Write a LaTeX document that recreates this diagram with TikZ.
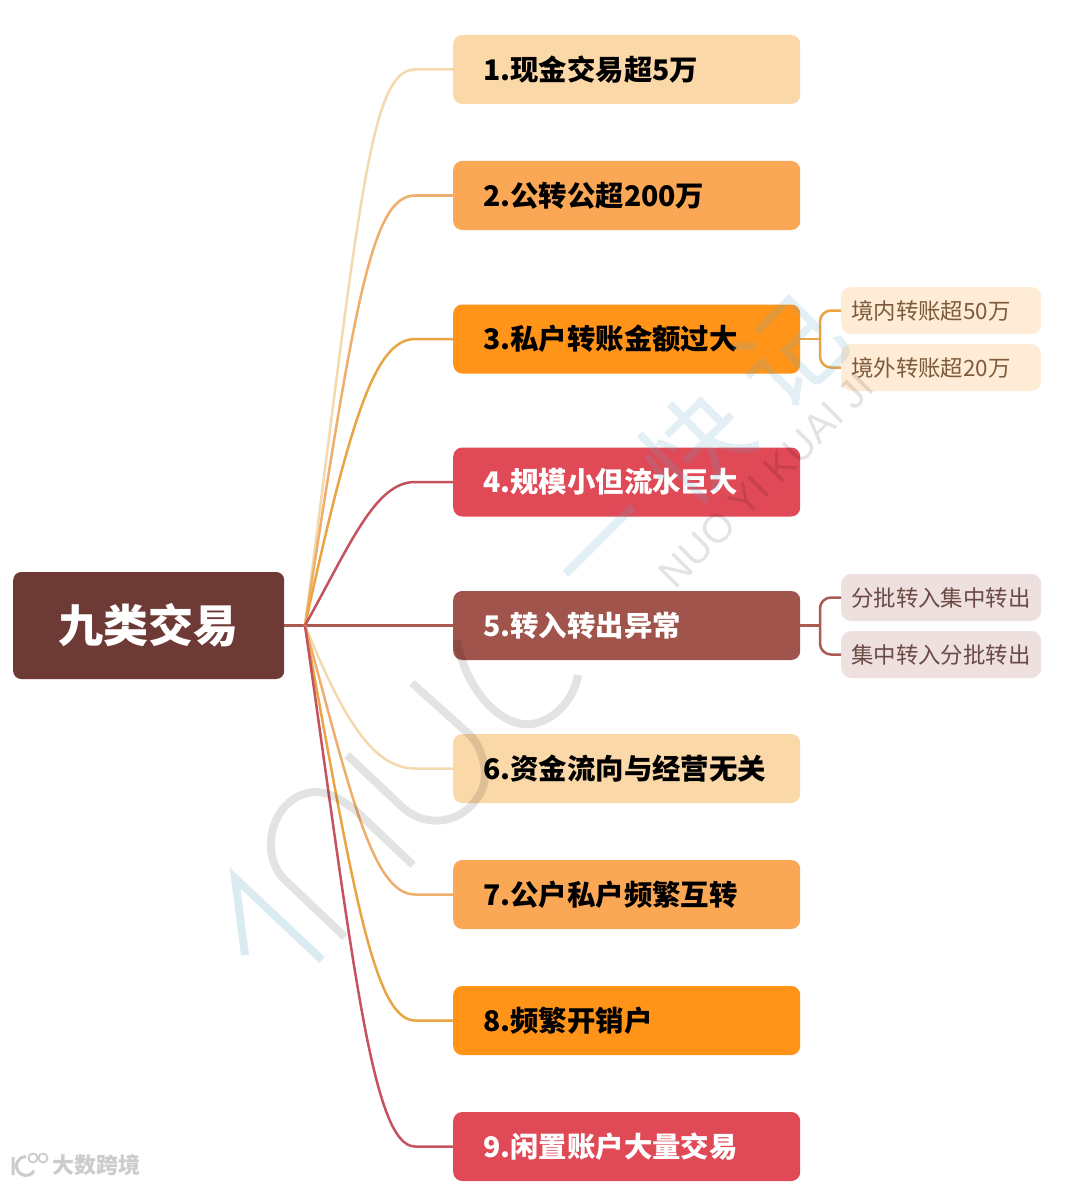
\documentclass[tikz,border=0pt]{standalone}
\usepackage{fontspec}
\setmainfont{Noto Sans CJK SC}
\newfontfamily\wmlatin{Liberation Sans}
\definecolor{rootc}{HTML}{6E3A35}
\definecolor{pale}{HTML}{FBD8A8}
\definecolor{peach}{HTML}{FBA856}
\definecolor{amber}{HTML}{FF9419}
\definecolor{rose}{HTML}{E04A57}
\definecolor{brick}{HTML}{A0544C}
\definecolor{linepale}{HTML}{F3D9AE}
\definecolor{linepeach}{HTML}{EFAE6C}
\definecolor{lineamber}{HTML}{E9A544}
\definecolor{linerose}{HTML}{C4535F}
\definecolor{linebrick}{HTML}{A95B52}
\definecolor{leaftexta}{HTML}{7D5A3A}
\definecolor{leaftextb}{HTML}{6B4A45}
\definecolor{wmblue}{HTML}{5FA8C8}
\tikzset{
  rootbox/.style={fill=rootc, text=white, rounded corners=8pt, minimum width=271pt, minimum height=107pt,
    font=\bfseries\fontsize{45}{47}\selectfont, anchor=west},
  branch/.style={rounded corners=9pt, minimum width=347pt, minimum height=69pt, inner xsep=30pt,
    text width=287pt, align=left, font=\bfseries\fontsize{28.4}{30}\selectfont, anchor=west},
  leaf/.style={rounded corners=10pt, minimum width=200pt, minimum height=47pt, inner xsep=10pt,
    text width=180pt, align=left, font=\fontsize{22.4}{24}\selectfont, anchor=west},
  link/.style={line width=2.5pt},
}
\begin{document}
\begin{tikzpicture}[x=1pt, y=-1pt]
    \useasboundingbox[fill=white] (0,0) rectangle (1080,1185);
    % boxes
    \node[rootbox] (root) at (13,625.5) {九类交易};
    \node[branch, fill=pale] (n1) at (453,69.5) {1.现金交易超5万};
    \node[branch, fill=peach] (n2) at (453,195.5) {2.公转公超200万};
    \node[branch, fill=amber] (n3) at (453,339) {3.私户转账金额过大};
    \node[branch, fill=rose, text=white] (n4) at (453,482) {4.规模小但流水巨大};
    \node[branch, fill=brick, text=white] (n5) at (453,625.5) {5.转入转出异常};
    \node[branch, fill=pale] (n6) at (453,768.5) {6.资金流向与经营无关};
    \node[branch, fill=peach] (n7) at (453,894.5) {7.公户私户频繁互转};
    \node[branch, fill=amber] (n8) at (453,1020.5) {8.频繁开销户};
    \node[branch, fill=rose, text=white] (n9) at (453,1146.5) {9.闲置账户大量交易};
    \node[leaf, fill=amber!18, text=leaftexta] (s1) at (841,310.5) {境内转账超50万};
    \node[leaf, fill=amber!18, text=leaftexta] (s2) at (841,367.5) {境外转账超20万};
    \node[leaf, fill=brick!18, text=leaftextb] (s3) at (841,597.5) {分批转入集中转出};
    \node[leaf, fill=brick!18, text=leaftextb] (s4) at (841,654.5) {集中转入分批转出};
    % links
    \coordinate (hub) at (305,625.5);
    \coordinate (fork3) at (820,339);
    \coordinate (fork5) at (820,625.5);
    \draw[link, linebrick] (root.east) -- (n5.west);
    \draw[link, linepale] (hub) .. controls (360,200) and (370,69.5) .. (415,69.5) -- (n1.west);
    \draw[link, linepeach] (hub) .. controls (355,300) and (372,195.5) .. (415,195.5) -- (n2.west);
    \draw[link, lineamber] (hub) .. controls (350,420) and (375,339) .. (415,339) -- (n3.west);
    \draw[link, linerose] (hub) .. controls (350,545) and (375,482) .. (415,482) -- (n4.west);
    \draw[link, linepale] (hub) .. controls (340,710) and (370,768.5) .. (415,768.5) -- (n6.west);
    \draw[link, linepeach] (hub) .. controls (350,790) and (372,894.5) .. (415,894.5) -- (n7.west);
    \draw[link, lineamber] (hub) .. controls (352,880) and (373,1020.5) .. (415,1020.5) -- (n8.west);
    \draw[link, linerose] (hub) .. controls (353,960) and (372,1146.5) .. (415,1146.5) -- (n9.west);
    \draw[link, lineamber] (n3.east) -- (fork3);
    \draw[link, lineamber, rounded corners=11pt] (s1.west) -| (fork3) |- (s2.west);
    \draw[link, linebrick] (n5.east) -- (fork5);
    \draw[link, linebrick, rounded corners=11pt] (s3.west) -| (fork5) |- (s4.west);
    % watermark
    \begin{scope}[opacity=.11, line width=8pt, black]
    \draw (345,937) -- (285,880) .. controls (262,858) and (268,815) .. (295,798) .. controls (318,785) and (335,795) .. (355,810) -- (413,865);
    \draw (347,755) -- (400,805) .. controls (425,830) and (465,825) .. (482,790) .. controls (490,770) and (480,745) .. (470,735) -- (412,683);
    \draw (457,640) .. controls (465,690) and (505,735) .. (540,722) .. controls (560,715) and (575,695) .. (578,675);
    \end{scope}
    \begin{scope}[opacity=.22, line width=8pt, wmblue]
    \draw (245,955) -- (235,878) -- (322,960);
    \end{scope}
    \node[opacity=.18, text=wmblue, rotate=45, font=\fontsize{104}{106}\selectfont] (wmcn) at (695,447) {一\hspace{30pt}快\hspace{30pt}记};
    \node[opacity=.11, rotate=45, font=\wmlatin\fontsize{40}{42}\selectfont] (wmen) at (766,480) {NUO YI KUAI JI};
    % logo
    \node[text=black!20, font=\bfseries\fontsize{22}{24}\selectfont, anchor=west, inner sep=0pt] (logo) at (52,1165) {大数跨境};
    \draw[black!20, line width=3pt] (13,1157) -- (13,1175) (34.2,1170.7) arc (30:270:9.5);
    \draw[black!20, line width=1.8pt] (33,1158) circle (4.5) (43,1158) circle (4.5);
\end{tikzpicture}
\end{document}
